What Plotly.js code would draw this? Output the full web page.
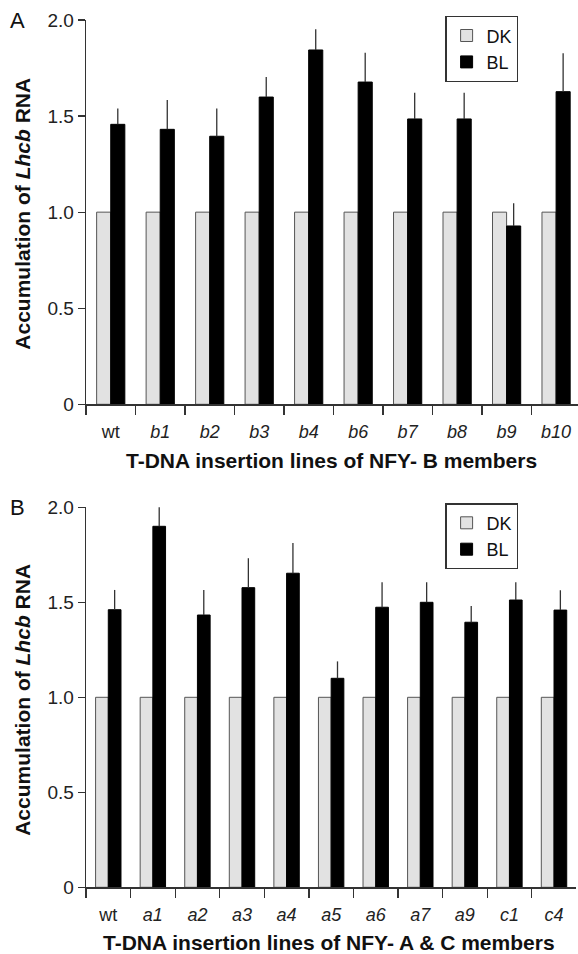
<!DOCTYPE html>
<html>
<head>
<meta charset="utf-8">
<script src="https://cdn.plot.ly/plotly-3.0.1.min.js"></script>
<style>html,body{margin:0;padding:0;background:#fff;}#chart{width:578px;height:954px;}</style>
</head>
<body>
<div id="chart"></div>
<script>
// Panel A data
const catsA = ["wt", "b1", "b2", "b3", "b4", "b6", "b7", "b8", "b9", "b10"];
const tickTextA = ["wt", "<i>b1</i>", "<i>b2</i>", "<i>b3</i>", "<i>b4</i>", "<i>b6</i>", "<i>b7</i>", "<i>b8</i>", "<i>b9</i>", "<i>b10</i>"];
const dkA = [1, 1, 1, 1, 1, 1, 1, 1, 1, 1];
const blA = [1.457, 1.431, 1.395, 1.599, 1.844, 1.677, 1.485, 1.485, 0.928, 1.627];
const blErrA = [0.083, 0.153, 0.145, 0.104, 0.108, 0.153, 0.137, 0.137, 0.118, 0.200];
const blErrMinusA = [0, 0, 0, 0, 0, 0, 0, 0, 0, 0];

// Panel B data
const catsB = ["wt", "a1", "a2", "a3", "a4", "a5", "a6", "a7", "a9", "c1", "c4"];
const tickTextB = ["wt", "<i>a1</i>", "<i>a2</i>", "<i>a3</i>", "<i>a4</i>", "<i>a5</i>", "<i>a6</i>", "<i>a7</i>", "<i>a9</i>", "<i>c1</i>", "<i>c4</i>"];
const dkB = [1, 1, 1, 1, 1, 1, 1, 1, 1, 1, 1];
const blB = [1.461, 1.900, 1.433, 1.577, 1.653, 1.100, 1.474, 1.500, 1.395, 1.512, 1.459];
const blErrB = [0.104, 0.121, 0.132, 0.155, 0.159, 0.089, 0.131, 0.105, 0.086, 0.093, 0.105];
const blErrMinusB = [0, 0, 0, 0, 0, 0, 0, 0, 0, 0, 0];

const yTickVals = [0, 0.5, 1.0, 1.5, 2.0];
const yTickText = ["0", "0.5", "1.0", "1.5", "2.0"];

const FONT = "Liberation Sans, Arial, Helvetica, sans-serif";
const W = 578, H = 954;
const px = v => v / W;
const py = v => 1 - v / H;

const dkMarker = {color: "#e2e2e2", line: {color: "#555555", width: 1}};
const blMarker = {color: "#000000", line: {color: "#000000", width: 1}};
const errStyle = {type: "data", symmetric: false, width: 0, thickness: 1.3, color: "#333"};

const traces = [
  {type: "bar", name: "DK", x: catsA, y: dkA, xaxis: "x", yaxis: "y", marker: dkMarker, legend: "legend", cliponaxis: false, hoverinfo: "skip"},
  {type: "bar", name: "BL", x: catsA, y: blA, xaxis: "x", yaxis: "y", marker: blMarker, legend: "legend", cliponaxis: false, hoverinfo: "skip",
   error_y: Object.assign({array: blErrA, arrayminus: blErrMinusA}, errStyle)},
  {type: "bar", name: "DK", x: catsB, y: dkB, xaxis: "x2", yaxis: "y2", marker: dkMarker, legend: "legend2", cliponaxis: false, hoverinfo: "skip"},
  {type: "bar", name: "BL", x: catsB, y: blB, xaxis: "x2", yaxis: "y2", marker: blMarker, legend: "legend2", cliponaxis: false, hoverinfo: "skip",
   error_y: Object.assign({array: blErrB, arrayminus: blErrMinusB}, errStyle)}
];

const xCommon = {
  type: "category", showline: true, linecolor: "#333", linewidth: 1.3,
  ticks: "outside", tickson: "boundaries", ticklen: 9, tickwidth: 1.3, tickcolor: "#333",
  showgrid: false, zeroline: false, fixedrange: true,
  tickfont: {family: FONT, size: 18, color: "#222"}, ticklabelstandoff: 11
};
const yCommon = {
  range: [0, 2.0], showline: true, linecolor: "#333", linewidth: 1.3,
  ticks: "outside", ticklen: 7, tickwidth: 1.3, tickcolor: "#333",
  tickvals: yTickVals, ticktext: yTickText,
  showgrid: false, zeroline: false, fixedrange: true,
  tickfont: {family: FONT, size: 19, color: "#222"}, ticklabelstandoff: 0
};

const legendCommon = {
  xanchor: "left", yanchor: "top", bgcolor: "#fff",
  bordercolor: "#333", borderwidth: 1.3,
  font: {family: FONT, size: 18, color: "#111"},
  traceorder: "normal", itemclick: false, itemdoubleclick: false
};

const layout = {
  width: W, height: H,
  margin: {l: 0, r: 0, t: 0, b: 0},
  paper_bgcolor: "#fff", plot_bgcolor: "#fff",
  barmode: "group", bargap: 0.43, bargroupgap: 0,
  showlegend: true,
  font: {family: FONT, color: "#222"},
  xaxis: Object.assign({}, xCommon, {domain: [px(86), 1], range: [-0.5, 9.443], anchor: "y", tickvals: catsA, ticktext: tickTextA}),
  yaxis: Object.assign({}, yCommon, {domain: [py(404.3), py(20)], anchor: "x"}),
  xaxis2: Object.assign({}, xCommon, {domain: [px(86), px(576.3)], anchor: "y2", tickvals: catsB, ticktext: tickTextB}),
  yaxis2: Object.assign({}, yCommon, {domain: [py(887.3), py(507.3)], anchor: "x2"}),
  legend: Object.assign({}, legendCommon, {x: px(445.3), y: py(16)}),
  legend2: Object.assign({}, legendCommon, {x: px(445.3), y: py(503.3)}),
  annotations: [
    {text: "A", xref: "paper", yref: "paper", x: px(17.5), y: py(21), xanchor: "center", yanchor: "middle", showarrow: false, font: {family: FONT, size: 22, color: "#111"}},
    {text: "B", xref: "paper", yref: "paper", x: px(17.5), y: py(507), xanchor: "center", yanchor: "middle", showarrow: false, font: {family: FONT, size: 22, color: "#111"}},
    {text: "<b>Accumulation of <i>Lhcb</i> RNA</b>", xref: "paper", yref: "paper", x: px(23), y: py(213.7), textangle: -90, xanchor: "center", yanchor: "middle", showarrow: false, font: {family: FONT, size: 21, color: "#111"}},
    {text: "<b>Accumulation of <i>Lhcb</i> RNA</b>", xref: "paper", yref: "paper", x: px(23), y: py(699.8), textangle: -90, xanchor: "center", yanchor: "middle", showarrow: false, font: {family: FONT, size: 21, color: "#111"}},
    {text: "<b>T-DNA insertion lines of NFY- B members</b>", xref: "paper", yref: "paper", x: px(331.5), y: py(460.7), xanchor: "center", yanchor: "middle", showarrow: false, font: {family: FONT, size: 21, color: "#111"}},
    {text: "<b>T-DNA insertion lines of NFY- A &amp; C members</b>", xref: "paper", yref: "paper", x: px(328.7), y: py(942.3), xanchor: "center", yanchor: "middle", showarrow: false, font: {family: FONT, size: 21, color: "#111"}}
  ]
};

Plotly.newPlot("chart", traces, layout, {staticPlot: true, displayModeBar: false});
</script>
</body>
</html>
